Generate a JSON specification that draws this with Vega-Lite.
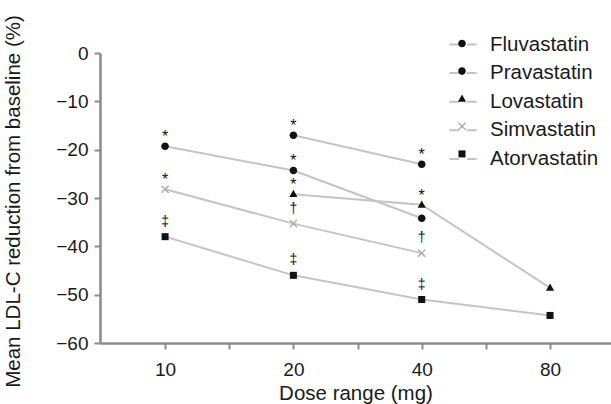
{
  "$schema": "https://vega.github.io/schema/vega-lite/v6.json",
  "width": 511,
  "height": 290,
  "autosize": {"type": "none"},
  "padding": {"left": 100, "top": 53, "right": 0, "bottom": 61},
  "background": "white",
  "config": {
    "view": {"stroke": null},
    "font": "Liberation Sans",
    "axis": {"grid": false, "domainColor": "#8a8a8a", "domainWidth": 2.5, "tickColor": "#8a8a8a", "tickWidth": 2, "labelColor": "#1a1a1a", "titleColor": "#1a1a1a", "labelFont": "Liberation Sans", "titleFont": "Liberation Sans", "titleFontWeight": "normal", "labelFontSize": 19, "titleFontSize": 20.5}
  },
  "data": {
    "values": [
      {"drug": "Fluvastatin", "dose": 20, "ldl": -17, "sig": "*"},
      {"drug": "Fluvastatin", "dose": 40, "ldl": -23, "sig": "*"},
      {"drug": "Pravastatin", "dose": 10, "ldl": -19.3, "sig": "*"},
      {"drug": "Pravastatin", "dose": 20, "ldl": -24.3, "sig": "*"},
      {"drug": "Pravastatin", "dose": 40, "ldl": -34.2, "sig": ""},
      {"drug": "Lovastatin", "dose": 20, "ldl": -29.2, "sig": "*"},
      {"drug": "Lovastatin", "dose": 40, "ldl": -31.4, "sig": "*"},
      {"drug": "Lovastatin", "dose": 80, "ldl": -48.6, "sig": ""},
      {"drug": "Simvastatin", "dose": 10, "ldl": -28.2, "sig": "*"},
      {"drug": "Simvastatin", "dose": 20, "ldl": -35.3, "sig": "†"},
      {"drug": "Simvastatin", "dose": 40, "ldl": -41.4, "sig": "†"},
      {"drug": "Atorvastatin", "dose": 10, "ldl": -38, "sig": "‡"},
      {"drug": "Atorvastatin", "dose": 20, "ldl": -46, "sig": "‡"},
      {"drug": "Atorvastatin", "dose": 40, "ldl": -51, "sig": "‡"},
      {"drug": "Atorvastatin", "dose": 80, "ldl": -54.3, "sig": ""}
    ]
  },
  "encoding": {
    "x": {
      "field": "dose", "type": "quantitative",
      "scale": {"type": "log", "base": 2, "domain": [7.036, 111.2], "nice": false, "zero": false},
      "axis": {
        "title": "Dose range (mg)",
        "values": [10, 14.142, 20, 28.284, 40, 56.569, 80],
        "format": "d",
        "labelExpr": "datum.value == 10 || datum.value == 20 || datum.value == 40 || datum.value == 80 ? datum.label : ''",
        "tickSize": 6, "labelPadding": 11, "titleY": 56, "titleBaseline": "alphabetic", "labelFlush": false
      }
    },
    "y": {
      "field": "ldl", "type": "quantitative",
      "scale": {"domain": [-60, 0], "nice": false, "zero": false},
      "axis": {
        "title": "Mean LDL-C reduction from baseline (%)",
        "values": [0, -10, -20, -30, -40, -50, -60],
        "tickSize": 6, "labelPadding": 6, "titleX": -80.5, "titleY": 148, "titleBaseline": "alphabetic", "titleAngle": -90
      }
    }
  },
  "layer": [
    {
      "mark": {"type": "line", "strokeWidth": 2},
      "encoding": {
        "stroke": {
          "field": "drug", "type": "nominal", "sort": null,
          "scale": {"range": ["#c4c4c4", "#c4c4c4", "#c4c4c4", "#c4c4c4", "#c4c4c4"]},
          "legend": {
            "orient": "none", "legendX": 348.5, "legendY": -23, "title": null, "padding": 0,
            "symbolType": "M-1,0H-0.3M0.3,0H1", "symbolSize": 729, "symbolStrokeWidth": 2, "symbolFillColor": "transparent",
            "labelFontSize": 20.5, "labelOffset": 12.5, "rowPadding": 3.6, "labelColor": "#1a1a1a", "labelFont": "Liberation Sans"
          }
        }
      }
    },
    {
      "mark": {"type": "point", "filled": true, "opacity": 1, "size": 729},
      "encoding": {
        "shape": {
          "field": "drug", "type": "nominal",
          "scale": {
            "domain": ["Fluvastatin", "Pravastatin", "Lovastatin", "Simvastatin", "Atorvastatin"],
            "range": [
              "M-0.28,0A0.28,0.28 0 1,0 0.28,0A0.28,0.28 0 1,0 -0.28,0Z",
              "M-0.28,0A0.28,0.28 0 1,0 0.28,0A0.28,0.28 0 1,0 -0.28,0Z",
              "M0,-0.32L0.3,0.22L-0.3,0.22Z",
              "M0,-0.07L0.23,-0.3L0.3,-0.23L0.07,0L0.3,0.23L0.23,0.3L0,0.07L-0.23,0.3L-0.3,0.23L-0.07,0L-0.3,-0.23L-0.23,-0.3Z",
              "M-0.26,-0.26H0.26V0.26H-0.26Z"
            ]
          },
          "legend": {
            "orient": "none", "legendX": 348.5, "legendY": -23, "title": null, "padding": 0,
            "symbolSize": 729, "symbolStrokeWidth": 0, "symbolOpacity": 1,
            "labelFontSize": 20.5, "labelOffset": 12.5, "rowPadding": 3.6, "labelExpr": "''", "labelFont": "Liberation Sans"
          }
        },
        "color": {
          "field": "drug", "type": "nominal",
          "scale": {
            "domain": ["Fluvastatin", "Pravastatin", "Lovastatin", "Simvastatin", "Atorvastatin"],
            "range": ["#111111", "#111111", "#111111", "#a8a8a8", "#111111"]
          },
          "legend": {
            "orient": "none", "legendX": 348.5, "legendY": -23, "title": null, "padding": 0,
            "symbolSize": 729, "symbolStrokeWidth": 0, "symbolOpacity": 1,
            "labelFontSize": 20.5, "labelOffset": 12.5, "rowPadding": 3.6, "labelExpr": "''", "labelFont": "Liberation Sans"
          }
        }
      }
    },
    {
      "transform": [{"filter": "datum.sig == '*'"}],
      "mark": {"type": "text", "fontSize": 16, "baseline": "middle", "dy": -9, "color": "#111111", "font": "Liberation Sans"},
      "encoding": {"text": {"field": "sig"}}
    },
    {
      "transform": [{"filter": "datum.sig == '†' || datum.sig == '‡'"}],
      "mark": {"type": "text", "fontSize": 14, "baseline": "middle", "dy": -15, "color": "#111111", "font": "Liberation Sans"},
      "encoding": {"text": {"field": "sig"}}
    }
  ]
}
